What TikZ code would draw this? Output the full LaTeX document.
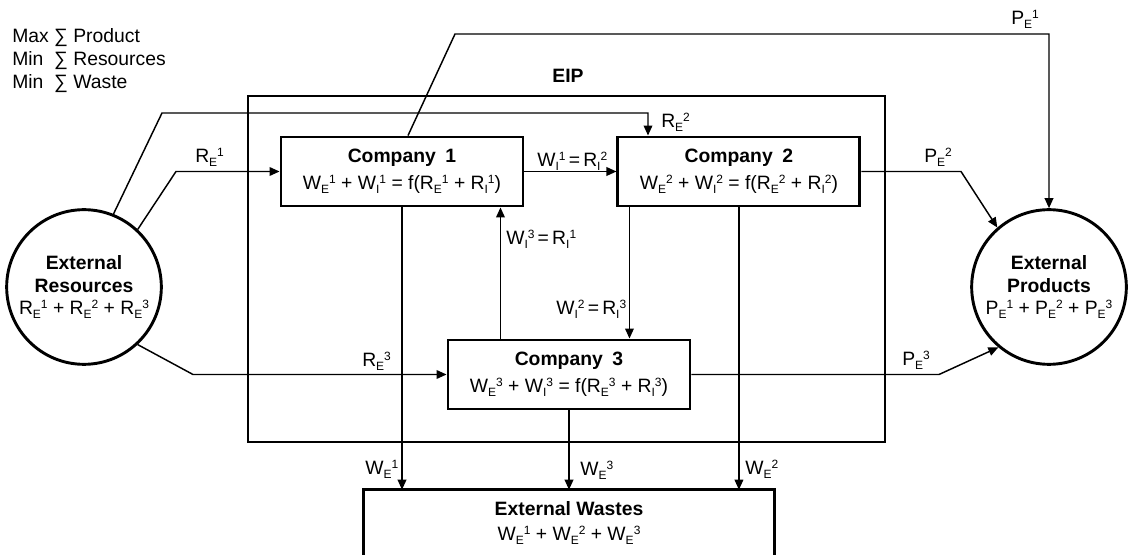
\documentclass[tikz,border=0pt]{standalone}
\usepackage{fontspec}
\setmainfont{Liberation Sans}
\usetikzlibrary{arrows.meta, positioning}
\newcommand{\fl}[3]{#1\raisebox{-3pt}{\fontsize{9}{9}\selectfont #2}\raisebox{4.5pt}{\fontsize{9}{9}\selectfont #3}}

\begin{document}
\begin{tikzpicture}[
    x=0.75pt, y=-0.75pt,
    line join=miter,
    company/.style={rectangle, draw=black, line width=2.2pt, align=center, minimum width=181.5pt, minimum height=51.75pt, inner sep=0pt, font=\fontsize{14.5}{20}\selectfont},
    market/.style={circle, draw=black, line width=2.2pt, align=center, minimum size=116pt, inner sep=0pt, font=\fontsize{14.5}{17}\selectfont},
    flow/.style={line width=1.1pt, -{Triangle[length=7.5pt, width=6.5pt]}},
    lbl/.style={anchor=base west, inner sep=0pt, font=\fontsize{14.5}{17}\selectfont}
]
\useasboundingbox (0,0) rectangle (1128,555);

% Nodes
\node[lbl] (goal) at (12,43) {\begin{tabular}[t]{@{}l@{ }l@{}}Max & ∑ Product\\ Min & ∑ Resources\\ Min & ∑ Waste\end{tabular}};

\node[draw, line width=2.2pt, minimum width=477.75pt, minimum height=259.5pt, inner sep=0pt] (eip) at (566.5,269) {};
\node[lbl, anchor=base, font=\fontsize{14.5}{17}\selectfont\bfseries] (eiplabel) at (568,83) {EIP};

\node[company] (company1) at (402,171.5) {\textbf{Company\enspace 1}\\\fl{W}{E}{1} + \fl{W}{I}{1} = f(\fl{R}{E}{1} + \fl{R}{I}{1})};
\node[company, right=69pt of company1] (company2) {\textbf{Company\enspace 2}\\\fl{W}{E}{2} + \fl{W}{I}{2} = f(\fl{R}{E}{2} + \fl{R}{I}{2})};
\node[company] (company3) at (569,374.5) {\textbf{Company\enspace 3}\\\fl{W}{E}{3} + \fl{W}{I}{3} = f(\fl{R}{E}{3} + \fl{R}{I}{3})};

\node[market] (resources) at (84,287) {\textbf{External}\\\textbf{Resources}\\\fl{R}{E}{1} + \fl{R}{E}{2} + \fl{R}{E}{3}};
\node[market] (products) at (1049,287) {\textbf{External}\\\textbf{Products}\\\fl{P}{E}{1} + \fl{P}{E}{2} + \fl{P}{E}{3}};

\node[minimum width=307.5pt, minimum height=49.5pt, inner sep=0pt, align=center, font=\fontsize{14.5}{19}\selectfont] (wastes) at (569,523) {\textbf{External Wastes}\\\fl{W}{E}{1} + \fl{W}{E}{2} + \fl{W}{E}{3}};
\draw[line width=2.2pt] (wastes.south west) -- (wastes.north west) -- (wastes.north east) -- (wastes.south east);

% Bends
\coordinate (re2) at (648,113);
\coordinate (pe1) at (455,34);
\coordinate (c2c3) at ([xshift=9.75pt]company2.south west);
\coordinate (c3c1) at ([xshift=-18pt]company1.south east);

% Arrows
\draw[flow] (resources.68) -- (162,113) -- (re2) -- (re2 |- company2.north);
\draw[flow] (resources.47) -- (176,171.5) -- (company1.west);
\draw[flow] (resources.-47) -- (193,374.5) -- (company3.west);

\draw[flow] (company1.east) -- (company2.west);
\draw[flow] (c2c3) -- (c2c3 |- company3.north);
\draw[flow] (c3c1 |- company3.north) -- (c3c1);

\draw[flow] (company1.south) -- (company1.south |- wastes.north);
\draw[flow] (company3.south) -- (wastes.north);
\draw[flow] (company2.south) -- (company2.south |- wastes.north);

\draw[flow] ([xshift=4.5pt]company1.north) -- (pe1) -- (pe1 -| products.north) -- (products.north);
\draw[flow] (company2.east) -- (961,171.5) -- (products.131);
\draw[flow] (company3.east) -- (939,374.5) -- (products.-130);

% Labels
\node[lbl] (lre1) at (195,163) {\fl{R}{E}{1}};
\node[lbl] (lre2) at (661,128) {\fl{R}{E}{2}};
\node[lbl] (lre3) at (362,367) {\fl{R}{E}{3}};
\node[lbl] (lwr12) at (537,167) {\fl{W}{I}{1}\,=\,\fl{R}{I}{2}};
\node[lbl] (lwr31) at (506,245) {\fl{W}{I}{3}\,=\,\fl{R}{I}{1}};
\node[lbl] (lwr23) at (556,315) {\fl{W}{I}{2}\,=\,\fl{R}{I}{3}};
\node[lbl] (lwe1) at (365,475) {\fl{W}{E}{1}};
\node[lbl] (lwe3) at (580,476) {\fl{W}{E}{3}};
\node[lbl] (lwe2) at (745,475) {\fl{W}{E}{2}};
\node[lbl] (lpe1) at (1011,25) {\fl{P}{E}{1}};
\node[lbl] (lpe2) at (924,163) {\fl{P}{E}{2}};
\node[lbl] (lpe3) at (902,366) {\fl{P}{E}{3}};

\end{tikzpicture}
\end{document}
